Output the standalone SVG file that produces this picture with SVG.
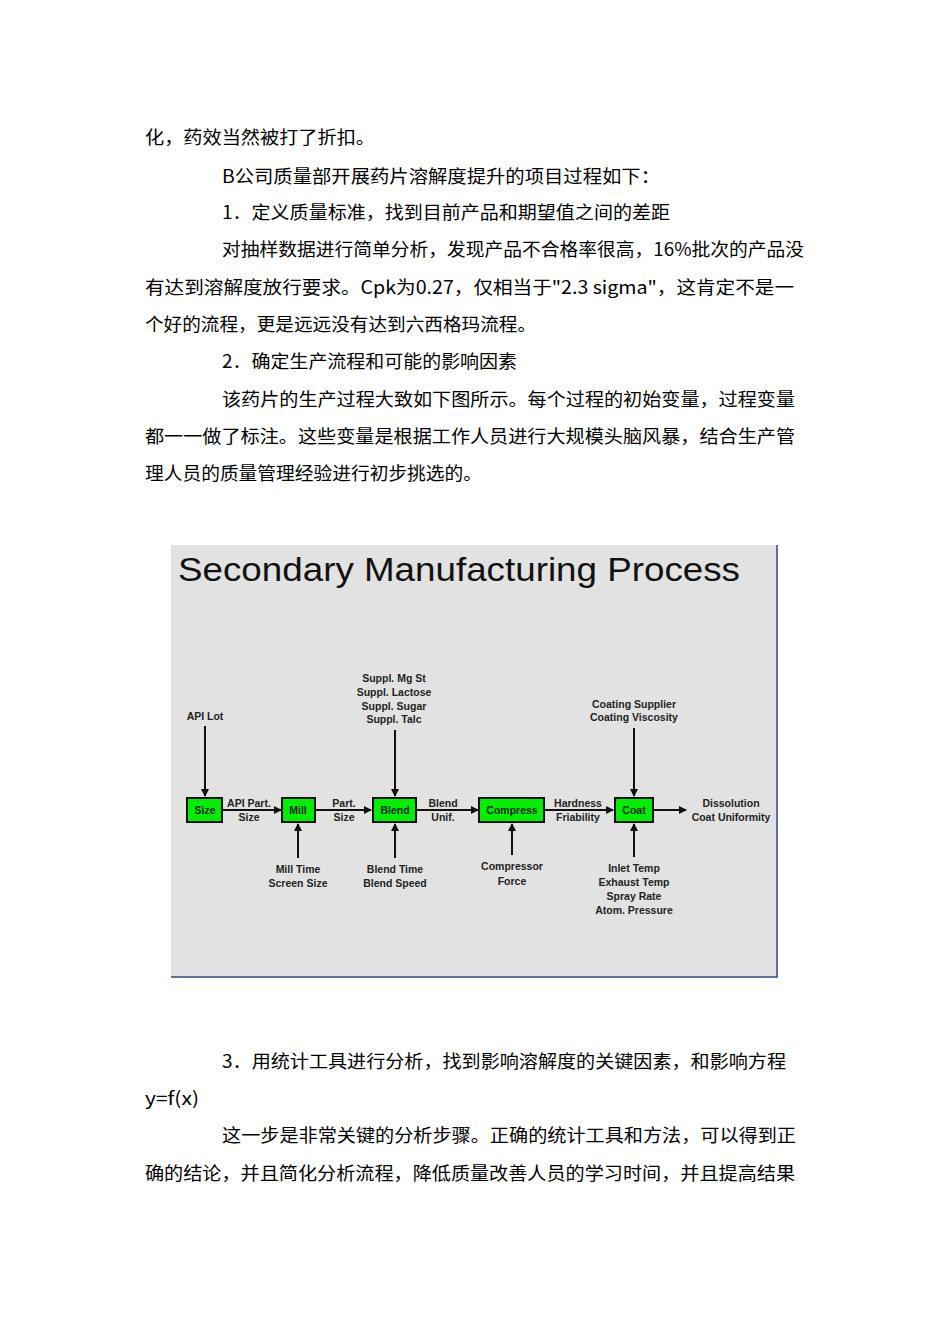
<svg xmlns="http://www.w3.org/2000/svg" width="950" height="1344" viewBox="0 0 950 1344">
<defs>
<style>
.t{font-family:"Noto Sans CJK SC","Liberation Mono",sans-serif;font-size:18px;fill:#000}
.l{font-family:"Liberation Sans",Arial,sans-serif;font-size:10.5px;font-weight:bold;fill:#222;text-anchor:middle}
.b{fill:#00ee00;stroke:#111;stroke-width:2}
.c{stroke:#111;stroke-width:2;fill:none;marker-end:url(#a)}
</style>
<marker id="a" markerWidth="8" markerHeight="8" refX="7" refY="4" orient="auto" markerUnits="userSpaceOnUse"><path d="M0,0L8,4L0,8z" fill="#111"/></marker>
</defs>
<rect width="950" height="1344" fill="#fff"/>
<g id="text">
<text class="t" x="145" y="144" textLength="230" lengthAdjust="spacingAndGlyphs">化，药效当然被打了折扣。</text>
<text class="t" x="222" y="183" textLength="438" lengthAdjust="spacingAndGlyphs">B公司质量部开展药片溶解度提升的项目过程如下：</text>
<text class="t" x="222" y="219" textLength="448" lengthAdjust="spacingAndGlyphs">1．定义质量标准，找到目前产品和期望值之间的差距</text>
<text class="t" x="222" y="256" textLength="582" lengthAdjust="spacingAndGlyphs">对抽样数据进行简单分析，发现产品不合格率很高，16%批次的产品没</text>
<text class="t" x="145" y="294" textLength="649" lengthAdjust="spacingAndGlyphs">有达到溶解度放行要求。Cpk为0.27，仅相当于"2.3  sigma"，这肯定不是一</text>
<text class="t" x="145" y="331" textLength="391" lengthAdjust="spacingAndGlyphs">个好的流程，更是远远没有达到六西格玛流程。</text>
<text class="t" x="222" y="368" textLength="295" lengthAdjust="spacingAndGlyphs">2．确定生产流程和可能的影响因素</text>
<text class="t" x="222" y="406" textLength="573" lengthAdjust="spacingAndGlyphs">该药片的生产过程大致如下图所示。每个过程的初始变量，过程变量</text>
<text class="t" x="145" y="443" textLength="650" lengthAdjust="spacingAndGlyphs">都一一做了标注。这些变量是根据工作人员进行大规模头脑风暴，结合生产管</text>
<text class="t" x="145" y="480" textLength="337" lengthAdjust="spacingAndGlyphs">理人员的质量管理经验进行初步挑选的。</text>
<text class="t" x="222" y="1068" textLength="564" lengthAdjust="spacingAndGlyphs">3．用统计工具进行分析，找到影响溶解度的关键因素，和影响方程</text>
<text class="t" x="145" y="1105" textLength="54" lengthAdjust="spacingAndGlyphs">y=f(x)</text>
<text class="t" x="222" y="1142" textLength="574" lengthAdjust="spacingAndGlyphs">这一步是非常关键的分析步骤。正确的统计工具和方法，可以得到正</text>
<text class="t" x="145" y="1180" textLength="650" lengthAdjust="spacingAndGlyphs">确的结论，并且简化分析流程，降低质量改善人员的学习时间，并且提高结果</text>
</g>
<g id="panel">
<rect x="171" y="545" width="606" height="432" fill="#e2e2e2"/>
<path d="M777,545V977H171" stroke="#334488" stroke-width="1.5" fill="none"/>
<text x="178" y="581" font-family="Liberation Sans,Arial,sans-serif" font-size="34" fill="#111" textLength="562" lengthAdjust="spacingAndGlyphs">Secondary Manufacturing Process</text>
</g>
<g id="connectors">
<path class="c" d="M205,726V796"/>
<path class="c" d="M222,810H281"/>
<path class="c" d="M315,810H371"/>
<path class="c" d="M416,810H478"/>
<path class="c" d="M544,810H613"/>
<path class="c" d="M653,810H686"/>
<path class="c" d="M395,730V796"/>
<path class="c" d="M634,728V796"/>
<path class="c" d="M298,858V824"/>
<path class="c" d="M395,858V824"/>
<path class="c" d="M512,855V824"/>
<path class="c" d="M634,857V824"/>
</g>
<g id="n-size"><rect class="b" x="187" y="798" width="35" height="24"/><text class="l" x="205" y="814">Size</text></g>
<g id="n-mill"><rect class="b" x="282" y="798" width="33" height="24"/><text class="l" x="298" y="814">Mill</text></g>
<g id="n-blend"><rect class="b" x="373" y="798" width="43" height="24"/><text class="l" x="395" y="814">Blend</text></g>
<g id="n-compress"><rect class="b" x="479" y="798" width="65" height="24"/><text class="l" x="512" y="814">Compress</text></g>
<g id="n-coat"><rect class="b" x="615" y="798" width="38" height="24"/><text class="l" x="634" y="814">Coat</text></g>
<g id="labels">
<text class="l" x="205" y="720">API Lot</text>
<text class="l" x="249" y="807">API Part.</text><text class="l" x="249" y="821">Size</text>
<text class="l" x="344" y="807">Part.</text><text class="l" x="344" y="821">Size</text>
<text class="l" x="443" y="807">Blend</text><text class="l" x="443" y="821">Unif.</text>
<text class="l" x="578" y="807">Hardness</text><text class="l" x="578" y="821">Friability</text>
<text class="l" x="731" y="807">Dissolution</text><text class="l" x="731" y="821">Coat Uniformity</text>
<text class="l" x="394" y="682">Suppl. Mg St</text><text class="l" x="394" y="696">Suppl. Lactose</text><text class="l" x="394" y="710">Suppl. Sugar</text><text class="l" x="394" y="723">Suppl. Talc</text>
<text class="l" x="634" y="708">Coating Supplier</text><text class="l" x="634" y="721">Coating Viscosity</text>
<text class="l" x="298" y="873">Mill Time</text><text class="l" x="298" y="887">Screen Size</text>
<text class="l" x="395" y="873">Blend Time</text><text class="l" x="395" y="887">Blend Speed</text>
<text class="l" x="512" y="870">Compressor</text><text class="l" x="512" y="885">Force</text>
<text class="l" x="634" y="872">Inlet Temp</text><text class="l" x="634" y="886">Exhaust Temp</text><text class="l" x="634" y="900">Spray Rate</text><text class="l" x="634" y="914">Atom. Pressure</text>
</g>
</svg>
